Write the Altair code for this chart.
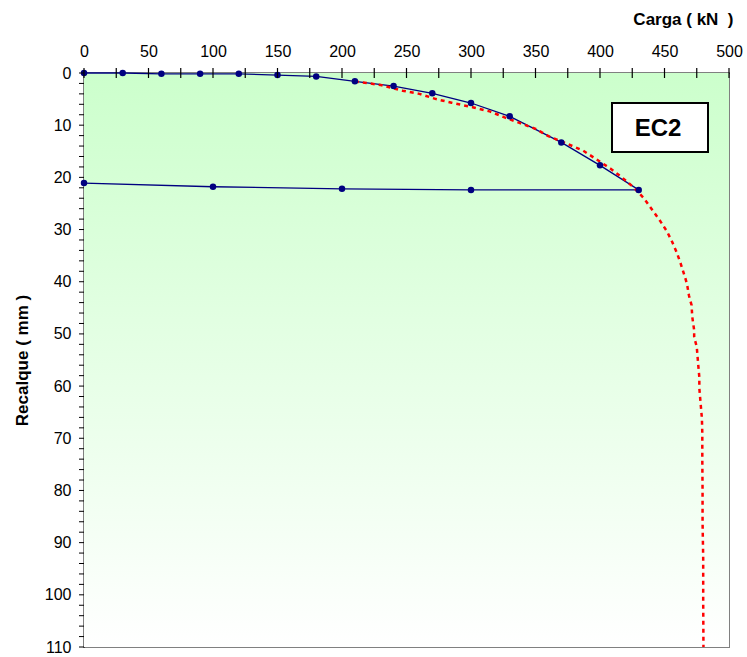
import altair as alt
import pandas as pd

# Load test: loading branch then unloading branch (kN, mm)
load_kn = [0, 30, 60, 90, 120, 150, 180, 210, 240, 270, 300, 330, 370, 400, 430,
           300, 200, 100, 0]
settle_mm = [0.0, 0.0, 0.15, 0.15, 0.15, 0.4, 0.65, 1.6, 2.5, 3.9, 5.75, 8.3, 13.3, 17.7, 22.4,
             22.4, 22.2, 21.8, 21.1]

# Extrapolated load-settlement curve
extrap_kn = [210, 230, 247, 260, 273, 285, 302, 315, 326, 338, 350, 360, 374, 387, 397,
             408, 417, 426, 434, 441, 446.5, 452, 456, 459.5, 462.5, 466, 467.5, 469,
             471, 471.5, 473, 473, 475, 476, 477, 477, 478, 479, 479.3, 479.3, 479.5,
             479.5, 480, 480, 480.2]
extrap_mm = [1.6, 2.3, 3.4, 4.0, 5.0, 5.7, 6.6, 7.4, 8.5, 9.6, 10.7, 12.1, 13.5, 14.9, 16.5,
             18.3, 20.0, 21.9, 24.0, 26.4, 28.3, 30.4, 32.4, 34.4, 36.5, 39.2, 40.5, 42.7,
             44.5, 46.7, 49.3, 50.6, 52.5, 55.5, 58.3, 60.4, 63.3, 66.2, 69.0, 74.0, 80.0,
             86.0, 93.0, 101.0, 110.0]

# Axis labels and tick positions (major + minor)
x_labels = list(range(0, 501, 50))
y_labels = list(range(0, 111, 10))
x_ticks = list(range(0, 501, 25))
y_ticks = list(range(0, 111, 2))

W, H = 645, 574
FONT = "Liberation Sans"

test = pd.DataFrame({"carga": load_kn, "recalque": settle_mm, "i": range(len(load_kn))})
extrap = pd.DataFrame({"carga": extrap_kn, "recalque": extrap_mm, "i": range(len(extrap_kn))})
xt = pd.DataFrame({"carga": x_ticks})
yt = pd.DataFrame({"recalque": y_ticks})
one = pd.DataFrame({"k": [0]})

x_enc = alt.X(
    "carga:Q",
    scale=alt.Scale(domain=[0, 500], nice=False),
    axis=alt.Axis(
        orient="top", values=x_labels, grid=False, ticks=False,
        labelOverlap=False, labelFlush=False, labelPadding=14,
        title="Carga ( kN\u00a0\u00a0)", titleAnchor="end", titleAlign="right",
        titleX=W + 4, titleY=-54, titleBaseline="middle",
    ),
)
y_enc = alt.Y(
    "recalque:Q",
    scale=alt.Scale(domain=[0, 110], nice=False, reverse=True),
    axis=alt.Axis(
        values=y_labels, grid=False, ticks=False,
        labelOverlap=False, labelFlush=False, labelPadding=13,
        title="Recalque ( mm )", titleX=-62, titleY=H / 2,
        titleAngle=-90, titleAlign="center", titleBaseline="middle",
    ),
)

background = alt.Chart(one).mark_rect(
    color=alt.LinearGradient(
        gradient="linear", x1=0, x2=0, y1=0, y2=1,
        stops=[alt.GradientStop(color="#ccffcc", offset=0),
               alt.GradientStop(color="#ffffff", offset=1)],
    )
).encode(x=alt.value(0), x2=alt.value(W), y=alt.value(0), y2=alt.value(H))

# Tick marks on the top (load) and left (settlement) axes
x_tick_marks = alt.Chart(xt).mark_rule(color="black", strokeWidth=1.2).encode(
    x="carga:Q", y=alt.value(-5), y2=alt.value(5)
)
y_tick_marks = alt.Chart(yt).mark_rule(color="black", strokeWidth=1).encode(
    y="recalque:Q", x=alt.value(-5), x2=alt.value(0)
)

test_line = alt.Chart(test).mark_line(color="#000080", strokeWidth=1.3).encode(
    x=x_enc, y=y_enc, order="i:Q"
)
extrap_line = alt.Chart(extrap).mark_line(
    color="#ff0000", strokeWidth=2.5, strokeDash=[4, 4]
).encode(x="carga:Q", y="recalque:Q", order="i:Q")
test_points = alt.Chart(test).mark_circle(color="#000080", size=42, opacity=1).encode(
    x="carga:Q", y="recalque:Q"
)

box = alt.Chart(one).mark_rect(fill="white", stroke="black", strokeWidth=2).encode(
    x=alt.value(528), x2=alt.value(624), y=alt.value(30), y2=alt.value(79)
)
box_text = alt.Chart(one).mark_text(
    text="EC2", font=FONT, fontSize=24, fontWeight="bold", color="black",
    align="center", baseline="middle"
).encode(x=alt.value(574), y=alt.value(56))

chart = alt.layer(
    background, test_line, extrap_line, test_points, x_tick_marks, y_tick_marks,
    box, box_text
).properties(
    width=W, height=H,
    autosize=alt.AutoSizeParams(type="none"),
    padding={"left": 84, "top": 73, "right": 18, "bottom": 10},
).configure_view(
    stroke="#808080", strokeWidth=2
).configure_axis(
    domainColor="black", domainWidth=1, zindex=1,
    labelFont=FONT, labelFontSize=16, labelColor="black",
    titleFont=FONT, titleFontSize=17, titleFontWeight="bold", titleColor="black",
)

chart.save("out.html", embed_options={"renderer": "svg", "actions": False})
